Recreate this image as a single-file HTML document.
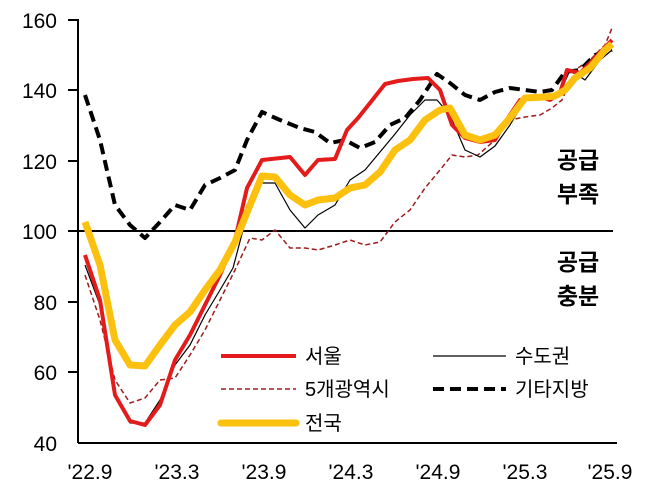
<!DOCTYPE html>
<html><head><meta charset="utf-8"><style>
body{margin:0;background:#fff;}
svg{display:block;font-family:"Liberation Sans","Noto Sans CJK KR",sans-serif;}
</style></head><body>
<svg width="649" height="500" viewBox="0 0 649 500">
<g font-size="21" fill="#000" text-anchor="end">
<text x="57" y="28">160</text><text x="57" y="98">140</text><text x="57" y="169">120</text>
<text x="57" y="239">100</text><text x="57" y="310">80</text><text x="57" y="380">60</text><text x="57" y="451">40</text>
</g>
<g font-size="21" text-anchor="middle">
<text x="90" y="479">'22.9</text><text x="177" y="479">'23.3</text><text x="264" y="479">'23.9</text>
<text x="351" y="479">'24.3</text><text x="438" y="479">'24.9</text><text x="525" y="479">'25.3</text><text x="610" y="479">'25.9</text>
</g>
<g stroke="#000" stroke-width="2">
<line x1="78" y1="19" x2="78" y2="443"/><line x1="78" y1="443" x2="617" y2="443"/>
<line x1="68" y1="20" x2="78" y2="20"/><line x1="68" y1="90" x2="78" y2="90"/><line x1="68" y1="161" x2="78" y2="161"/>
<line x1="68" y1="302" x2="78" y2="302"/><line x1="68" y1="372" x2="78" y2="372"/>
<line x1="68" y1="231" x2="613" y2="231"/>
</g>
<g fill="none" stroke-linejoin="round">
<polyline stroke="#9e1b1b" stroke-width="1.5" stroke-dasharray="5,3" points="85,275 100,320 115,380 130,403 145,398 160,380 175,378 190,355 205,330 220,300 235,270 250,238 262,240 275,230 290,248 305,248 318,250 335,245 350,240 365,245 380,242 395,222 410,210 425,188 440,170 452,155 465,157 478,155 495,140 510,120 525,117 540,115 552,108 562,100 575,70 590,60 605,45 612,28"/>
<polyline stroke="#000" stroke-width="1.2" points="85,265 100,305 115,395 130,423 145,423 160,400 175,365 190,345 205,315 220,290 233,268 247,215 262,183 275,183 290,210 305,228 318,215 335,205 350,180 365,170 380,152 395,134 410,115 425,100 437,100 450,115 465,150 480,157 495,146 510,125 525,100 540,98 550,97 560,93 570,70 585,80 600,60 612,50"/>
<polyline stroke="#000" stroke-width="4" stroke-dasharray="11,6" points="85,95 100,140 115,205 130,225 145,238 160,222 175,205 190,210 205,185 220,178 235,170 247,140 262,112 280,120 300,128 315,132 330,143 345,140 360,148 375,142 390,125 405,118 420,100 437,74 450,83 465,95 480,100 495,92 510,88 525,90 540,92 552,90 565,72 580,70 595,55 612,50"/>
<polyline stroke="#e31b1b" stroke-width="4" points="85,255 100,300 115,395 130,421 145,425 160,405 175,360 190,335 205,305 220,275 235,240 247,188 262,160 290,157 305,175 318,160 335,159 347,130 358,118 370,103 385,84 398,81 413,79 428,78 440,90 452,125 465,138 480,142 495,140 508,118 520,100 540,97 550,100 560,93 567,70 580,73 595,58 612,40"/>
<polyline stroke="#fcc00e" stroke-width="7" points="85,222 100,265 115,340 130,365 145,366 160,345 175,325 190,312 205,290 220,270 235,242 250,205 262,176 275,177 290,195 305,205 318,200 335,198 350,188 365,185 380,172 395,150 410,140 425,120 440,110 450,108 465,135 480,140 495,135 510,118 525,98 545,97 555,96 565,90 575,78 590,68 605,50 612,44"/>
</g>
<g fill="none">
<line x1="221" y1="356" x2="296" y2="356" stroke="#e31b1b" stroke-width="4"/>
<line x1="221" y1="389" x2="296" y2="389" stroke="#9e1b1b" stroke-width="1.5" stroke-dasharray="5,3"/>
<line x1="221" y1="423" x2="296" y2="423" stroke="#fcc00e" stroke-width="7" stroke-linecap="round"/>
<line x1="433" y1="356" x2="506" y2="356" stroke="#000" stroke-width="1.2"/>
<line x1="433" y1="389" x2="506" y2="389" stroke="#000" stroke-width="4" stroke-dasharray="11,6"/>
</g>
<g font-size="20" fill="#000">
<text x="305" y="363">서울</text><text x="305" y="396">5개광역시</text><text x="305" y="430">전국</text>
<text x="515" y="363">수도권</text><text x="515" y="396">기타지방</text>
</g>
<g font-size="23" fill="#000" text-anchor="middle" font-weight="bold">
<text x="578" y="168">공급</text><text x="578" y="202">부족</text>
<text x="578" y="270">공급</text><text x="578" y="304">충분</text>
</g>
</svg>
</body></html>
